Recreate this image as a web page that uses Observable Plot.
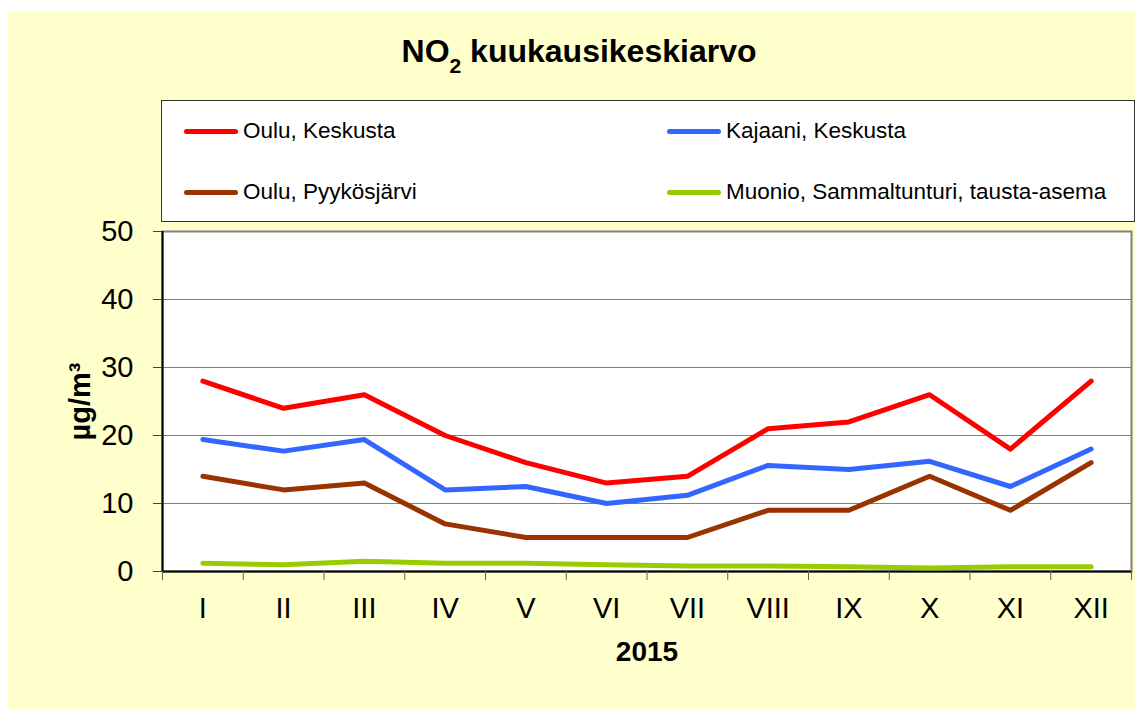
<!DOCTYPE html>
<html>
<head>
<meta charset="utf-8">
<script src="https://cdn.jsdelivr.net/npm/d3@7"></script>
<script src="https://cdn.jsdelivr.net/npm/@observablehq/plot@0.6"></script>
<style>
  html, body { margin: 0; padding: 0; background: #ffffff; width: 1135px; height: 711px; overflow: hidden; }
  body { position: relative; font-family: "Liberation Sans", Arial, sans-serif; color: #000; }
  #bg { position: absolute; left: 8px; top: 11px; width: 1127px; height: 698px; background: #FFFFCC; }
  #title { position: absolute; left: 579px; top: 35px; transform: translateX(-50%); font-size: 32px; line-height: 32px; font-weight: bold; white-space: nowrap; }
  #title .sub { font-size: 21px; position: relative; top: 11px; }
  #legend { position: absolute; left: 161px; top: 100px; width: 972px; height: 120px; background: #ffffff; border: 1px solid #333; }
  .item { position: absolute; height: 30px; display: flex; align-items: center; font-size: 22.5px; white-space: nowrap; }
  .swatch { display: inline-block; width: 54px; height: 5px; border-radius: 3px; margin-right: 5px; }
  #chart { position: absolute; left: 0; top: 0; }
</style>
</head>
<body>
<div id="bg"></div>
<div id="chart"></div>
<div id="title"></div>
<div id="legend"></div>
<script>
const titleMain = "NO";
const titleSub = "2";
const titleRest = " kuukausikeskiarvo";
const xAxisLabel = "2015";
const yAxisLabel = "µg/m³";
const months = ["I","II","III","IV","V","VI","VII","VIII","IX","X","XI","XII"];
const yTicks = [0, 10, 20, 30, 40, 50];
const gridValues = [10, 20, 30, 40];
const seriesNames = ["Oulu, Keskusta", "Kajaani, Keskusta", "Oulu, Pyykösjärvi", "Muonio, Sammaltunturi, tausta-asema"];
const seriesColors = ["#FF0000", "#3366FF", "#993300", "#99CC00"];
const ouluKeskusta = [28, 24, 26, 20, 16, 13, 14, 21, 22, 26, 18, 28];
const kajaaniKeskusta = [19.4, 17.7, 19.4, 12.0, 12.5, 10.0, 11.2, 15.6, 15.0, 16.2, 12.5, 18.0];
const ouluPyykosjarvi = [14, 12, 13, 7, 5, 5, 5, 9, 9, 14, 9, 16];
const muonio = [1.2, 1.0, 1.5, 1.2, 1.2, 1.0, 0.8, 0.8, 0.7, 0.5, 0.7, 0.7];

const seriesValues = [ouluKeskusta, kajaaniKeskusta, ouluPyykosjarvi, muonio];
const rows = [];
seriesValues.forEach((vals, s) => vals.forEach((v, i) => rows.push({series: seriesNames[s], month: i + 0.5, value: v})));

// Title
const t = document.getElementById("title");
t.append(titleMain);
const sub = document.createElement("span"); sub.className = "sub"; sub.textContent = titleSub; t.append(sub);
t.append(titleRest);

// Legend
const legend = document.getElementById("legend");
const colX = [22, 505];
const rowY = [15, 76];
seriesNames.forEach((name, i) => {
  const it = document.createElement("div");
  it.className = "item";
  it.style.left = colX[i % 2] + "px";
  it.style.top = rowY[Math.floor(i / 2)] + "px";
  const sw = document.createElement("span");
  sw.className = "swatch";
  sw.style.background = seriesColors[i];
  it.append(sw, document.createTextNode(name));
  legend.append(it);
});

const chart = Plot.plot({
  width: 1135,
  height: 711,
  marginTop: 231,
  marginBottom: 140,
  marginLeft: 162,
  marginRight: 4,
  style: {background: "transparent", fontFamily: "Liberation Sans, Arial, sans-serif", fontSize: "29px", color: "#000", overflow: "visible"},
  x: {domain: [0, months.length]},
  y: {domain: [0, 50]},
  color: {domain: seriesNames, range: seriesColors},
  marks: [
    Plot.frame({fill: "#ffffff", stroke: null}),
    Plot.ruleY(gridValues, {stroke: "#808080", strokeWidth: 1}),
    Plot.frame({stroke: "#808080", strokeWidth: 2}),
    Plot.ruleX([0], {stroke: "#000", strokeWidth: 2}),
    Plot.ruleY([0], {stroke: "#000", strokeWidth: 2}),
    Plot.axisY({ticks: yTicks, tickSize: 9, tickPadding: 20, fontSize: 29, label: null, stroke: "#404040"}),
    Plot.axisX({ticks: d3.range(0, months.length + 1), tickSize: 9, tickFormat: () => "", label: null, stroke: "#606060"}),
    Plot.axisX({ticks: months.map((m, i) => i + 0.5), tickSize: 0, tickPadding: 26, fontSize: 29, tickFormat: d => months[Math.round(d - 0.5)], label: null}),
    Plot.line(rows, {x: "month", y: "value", z: "series", stroke: "series", strokeWidth: 5, strokeLinecap: "round", strokeLinejoin: "round"}),
    Plot.text([xAxisLabel], {frameAnchor: "bottom", text: d => d, dy: 81, fontSize: 28, fontWeight: "bold", lineAnchor: "middle", textAnchor: "middle"}),
    Plot.text([yAxisLabel], {frameAnchor: "left", text: d => d, rotate: -90, dx: -82, fontSize: 29, fontWeight: "bold", lineAnchor: "middle", textAnchor: "middle"})
  ]
});
document.getElementById("chart").append(chart);
</script>
</body>
</html>
